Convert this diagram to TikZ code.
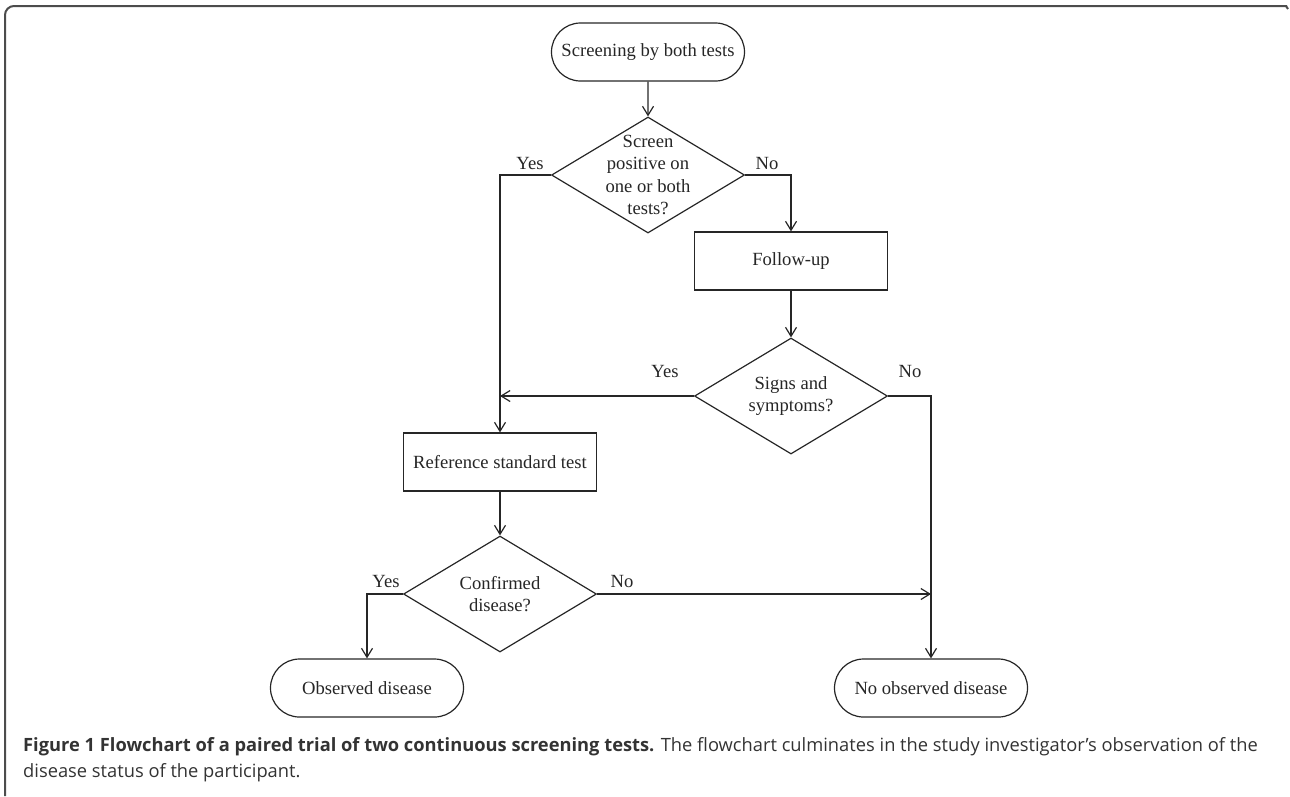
\documentclass[tikz,border=0pt]{standalone}
\usepackage{fontspec}
\setmainfont{Liberation Serif}
\newfontfamily\capfont{Open Sans}
\usetikzlibrary{shapes.geometric,shapes.misc,arrows.meta}

\begin{document}
\begin{tikzpicture}[x=1pt, y=-1pt, >={Straight Barb[length=9pt,width=11pt]},
	every node/.style={font=\fontsize{18.6}{22.5}\selectfont, inner sep=0pt, text=black!85},
	terminal/.style={rounded rectangle, draw=black!85, line width=1.2pt, minimum width=193pt, minimum height=58pt},
	process/.style={rectangle, draw=black!85, line width=1.2pt, minimum width=193pt, minimum height=58pt},
	decision/.style={diamond, draw=black!85, line width=1.2pt, minimum width=193pt, minimum height=116pt, aspect=1.66},
	answer/.style={anchor=base},
	flow/.style={->, draw=black!85, line width=1.2pt},
	caption/.style={anchor=base west, font=\capfont\fontsize{18.3}{26}\selectfont, text=black!80}]
	\useasboundingbox (0,0) rectangle (1290,796);
	
	% Frame
	\draw[line width=2pt, black!70, rounded corners=9pt] (5,796) -- (5,6) -- (1287,6);
	\draw[line width=2pt, black!70] (1286,6) -- (1288,9);
	
	% Terminals
	\node[terminal] (start) at (648,52) {Screening by both tests};
	\node[terminal] (obs) at (367,688) {Observed disease};
	\node[terminal] (noobs) at (931,688) {No observed disease};
	
	% Boxes
	\node[process] (follow) at (791,261) {Follow-up};
	\node[process] (ref) at (500,462) {Reference standard test};
	
	% Decisions
	\node[decision] (screen) at (648,175) {};
	\node[decision] (signs) at (791,396) {};
	\node[decision] (confirm) at (500,594) {};
	\node[align=center] (screentext) at (screen) {Screen\\positive on\\one or both\\tests?};
	\node[align=center] (signstext) at (signs) {Signs and\\symptoms?};
	\node[align=center] (confirmtext) at (confirm) {Confirmed\\disease?};
	
	% Yes / No
	\node[answer] (yes1) at (530,169) {Yes};
	\node[answer] (no1) at (767,169) {No};
	\node[answer] (yes2) at (665,377) {Yes};
	\node[answer] (no2) at (910,377) {No};
	\node[answer] (yes3) at (386,587) {Yes};
	\node[answer] (no3) at (622,587) {No};
	
	% Connectors
	\draw[flow] (start) -- (screen);
	\draw[flow] (screen.west) -| (ref.north);
	\draw[flow] (screen.east) -| (follow.north);
	\draw[flow] (follow) -- (signs);
	\draw[flow] (signs.west) -- (ref.north |- signs.west);
	\draw[flow] (signs.east) -| (noobs.north);
	\draw[flow] (ref) -- (confirm);
	\draw[flow] (confirm.west) -| (obs.north);
	\draw[flow] (confirm.east) -- (noobs.north |- confirm.east);
	
	% Caption
	\node[caption] (cap1) at (23,751) {\textbf{Figure 1 Flowchart of a paired trial of two continuous screening tests.} The flowchart culminates in the study investigator’s observation of the};
	\node[caption] (cap2) at (23,777) {disease status of the participant.};
\end{tikzpicture}
\end{document}
